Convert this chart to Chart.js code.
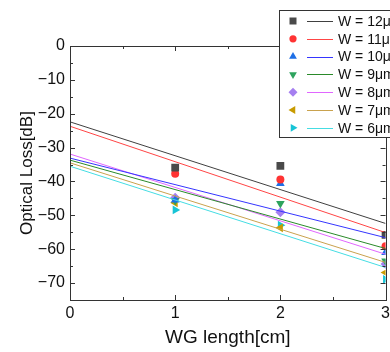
<!DOCTYPE html>
<html>
<head>
<meta charset="utf-8">
<script src="https://cdn.jsdelivr.net/npm/chart.js@4/dist/chart.umd.min.js"></script>
<style>
  html, body { margin: 0; padding: 0; background: #fff; overflow: hidden; }
  #wrap { width: 394px; height: 352px; }
</style>
</head>
<body>
<div id="wrap"><canvas id="c"></canvas></div>
<script>
// measured points (x = WG length, y = loss)
const lengths = [1, 2, 3];
const labels = ['W = 12\u03bcm', 'W = 11\u03bcm', 'W = 10\u03bcm', 'W = 9\u03bcm', 'W = 8\u03bcm', 'W = 7\u03bcm', 'W = 6\u03bcm'];
const w12 = [-35.9, -35.4, -55.8];
const w11 = [-37.7, -39.4, -59.1];
const w10 = [-45.5, -40.6, -61.0];
const w9  = [-45.6, -46.5, -63.5];
const w8  = [-44.8, -49.1, -64.4];
const w7  = [-46.3, -53.7, -66.9];
const w6  = [-48.4, -52.9, -68.9];
// fitted lines, value at x=0 and x=3
const fitX = [0, 3];
const fit12 = [-22.4, -52.4];
const fit11 = [-23.7, -55.1];
const fit10 = [-33.1, -56.6];
const fit9  = [-33.7, -59.8];
const fit8  = [-31.9, -61.5];
const fit7  = [-34.5, -63.9];
const fit6  = [-35.5, -65.4];

const xTicks = [0, 1, 2, 3];
const yTicks = [0, -10, -20, -30, -40, -50, -60, -70];

const points = [w12, w11, w10, w9, w8, w7, w6];
const fits = [fit12, fit11, fit10, fit9, fit8, fit7, fit6];

const pointColors = ['#4a4a4a', '#ff3333', '#1e6fe6', '#2ea35e', '#a57ff0', '#c89b00', '#17c4d6'];
const lineColors = ['#404040', '#ff4545', '#3535ff', '#2a8a2a', '#e066ff', '#c9a24e', '#45dde3'];
const styles = ['rect', 'circle', 'triangle', 'triangle', 'rectRot', 'triangle', 'triangle'];
const rotations = [0, 0, 0, 180, 0, 270, 90];
const radii = [5.5, 4, 5, 5, 5, 5, 5];

const font = '"Liberation Sans", Arial, sans-serif';

const datasets = [];
fits.forEach((f, i) => {
  datasets.push({
    type: 'line',
    data: fitX.map((x, k) => ({ x: x, y: f[k] })),
    borderColor: lineColors[i],
    borderWidth: 1,
    pointRadius: 0,
    clip: 0
  });
});
points.forEach((p, i) => {
  datasets.push({
    type: 'scatter',
    data: lengths.map((x, k) => ({ x: x, y: p[k] })),
    backgroundColor: pointColors[i],
    borderColor: pointColors[i],
    borderWidth: 0,
    pointStyle: styles[i],
    rotation: rotations[i],
    pointRadius: radii[i],
    clip: 0
  });
});

const minus = v => (v < 0 ? '\u2212' + Math.abs(v) : String(v));

const frame = {
  id: 'frame',
  afterDraw(chart) {
    const ctx = chart.ctx;
    const a = chart.chartArea;
    const xs = chart.scales.x, ys = chart.scales.y;
    ctx.save();
    ctx.strokeStyle = '#333';
    ctx.lineWidth = 1;
    ctx.strokeRect(Math.round(a.left) + 0.5, Math.round(a.top) + 0.5, Math.round(a.right - a.left), Math.round(a.bottom - a.top));
    ctx.beginPath();
    for (let v = 0; v >= -75; v -= 5) {
      const y = Math.round(ys.getPixelForValue(v)) + 0.5;
      const len = v % 10 === 0 ? 5 : 3;
      ctx.moveTo(a.left, y); ctx.lineTo(a.left + len, y);
      ctx.moveTo(a.right, y); ctx.lineTo(a.right - len, y);
    }
    for (let v = 0; v <= 3; v += 0.5) {
      const x = Math.round(xs.getPixelForValue(v)) + 0.5;
      const len = v % 1 === 0 ? 5 : 3;
      ctx.moveTo(x, a.bottom); ctx.lineTo(x, a.bottom - len);
      ctx.moveTo(x, a.top); ctx.lineTo(x, a.top + len);
    }
    ctx.stroke();

    // legend box
    const bx = 279, by = 10, bw = 130, bh = 127;
    ctx.fillStyle = '#fff';
    ctx.fillRect(bx, by, bw, bh);
    ctx.strokeStyle = '#333';
    ctx.strokeRect(bx + 0.5, by + 0.5, bw, bh);
    ctx.font = '14px ' + font;
    ctx.textBaseline = 'middle';
    labels.forEach((t, i) => {
      const y = 21 + i * 17.8;
      ctx.fillStyle = pointColors[i];
      Chart.helpers.drawPoint(ctx, {
        pointStyle: styles[i], rotation: rotations[i], radius: radii[i] * 0.9, borderWidth: 0
      }, 293, y);
      ctx.beginPath();
      ctx.strokeStyle = lineColors[i];
      ctx.moveTo(307, Math.round(y) + 0.5); ctx.lineTo(333, Math.round(y) + 0.5);
      ctx.stroke();
      ctx.fillStyle = '#111';
      ctx.fillText(t, 338, y + 1);
    });
    ctx.restore();
  }
};

new Chart(document.getElementById('c'), {
  type: 'scatter',
  data: { datasets: datasets },
  options: {
    responsive: true,
    maintainAspectRatio: false,
    animation: false,
    events: [],
    layout: { padding: { top: 46, left: 0, right: 0, bottom: 0 } },
    plugins: { legend: { display: false }, tooltip: { enabled: false } },
    scales: {
      x: {
        type: 'linear', min: 0, max: 3,
        afterBuildTicks: s => { s.ticks = xTicks.map(v => ({ value: v })); },
        afterFit: s => { s.height = 52; },
        grid: { display: false, drawTicks: false },
        border: { display: false },
        ticks: { color: '#111', font: { family: font, size: 16 }, padding: 4, maxRotation: 0 },
        title: { display: true, text: 'WG length[cm]', color: '#111', font: { family: font, size: 19 }, padding: { top: 2, bottom: 3 } }
      },
      y: {
        type: 'linear', min: -75, max: 0,
        afterBuildTicks: s => { s.ticks = yTicks.map(v => ({ value: v })); },
        afterFit: s => { s.width = 70; },
        grid: { display: false, drawTicks: false },
        border: { display: false },
        ticks: { color: '#111', font: { family: font, size: 16 }, padding: 5, callback: v => minus(v) },
        title: { display: true, text: 'Optical Loss[dB]', color: '#111', font: { family: font, size: 17 }, padding: { top: 17, bottom: 0 } }
      }
    }
  },
  plugins: [frame]
});
</script>
</body>
</html>
